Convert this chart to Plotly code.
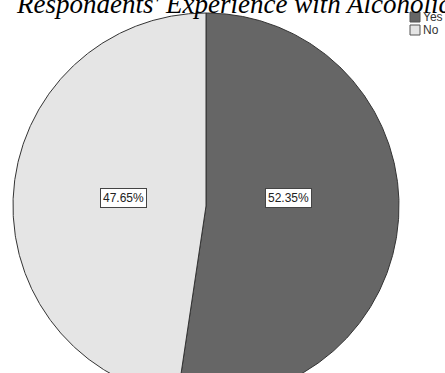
import numpy as np
import plotly.graph_objects as go

# Survey answers and their shares (%)
categories = ["Yes", "No"]
shares = [52.35, 47.65]
slice_colors = ["#666666", "#e5e5e5"]
label_texts = ["52.35%", "47.65%"]
title_text = "Respondents' Experience with Alcoholic Beverages"

W, H = 445, 373
cx_px, cy_px, r_px = 206, 206, 193  # pie centre / radius in pixels

fig = go.Figure()

# Draw each slice clockwise from 12 o'clock on a unit-radius pie
total = sum(shares)
start = 90.0
label_pos = []
for cat, val, col in zip(categories, shares, slice_colors):
    sweep = 360.0 * val / total
    ang = np.radians(np.linspace(start, start - sweep, 400))
    xs = np.concatenate([[0.0], np.cos(ang), [0.0]])
    ys = np.concatenate([[0.0], np.sin(ang), [0.0]])
    fig.add_trace(go.Scatter(
        x=xs, y=ys, mode="lines", fill="toself", fillcolor=col,
        line=dict(color="#333333", width=1), name=cat,
        hoverinfo="name", showlegend=False,
    ))
    mid = np.radians(start - sweep / 2)
    label_pos.append(0.43 * np.cos(mid))
    start -= sweep

# Percentage labels in small boxed tags
for lx, txt in zip(label_pos, label_texts):
    fig.add_annotation(
        x=lx, y=0.04, xref="x", yref="y", text=txt, showarrow=False,
        font=dict(family="Liberation Sans, Arial", size=12, color="#222222"),
        bgcolor="white", bordercolor="#444444", borderwidth=1, borderpad=2,
    )

# Title (italic serif, running off the right edge)
fig.add_annotation(
    x=14 / W, y=1 - 4 / H, xref="paper", yref="paper", xanchor="left",
    yanchor="middle", text=title_text, showarrow=False,
    font=dict(family="Liberation Serif, Times New Roman", size=27,
              color="#000000", style="italic"),
)

# Legend: colour swatch + category name
for i, (cat, col) in enumerate(zip(categories, slice_colors)):
    y0 = 12 + 13 * i
    fig.add_shape(type="rect", xref="paper", yref="paper",
                  x0=410 / W, x1=420 / W, y0=1 - (y0 + 10) / H, y1=1 - y0 / H,
                  fillcolor=col, line=dict(color="#555555", width=1))
    fig.add_annotation(
        x=421 / W, y=1 - (y0 + 5) / H, xref="paper", yref="paper",
        xanchor="left", yanchor="middle", text=cat, showarrow=False,
        font=dict(family="Liberation Sans, Arial", size=12, color="#333333"),
    )

fig.update_layout(
    width=W, height=H,
    margin=dict(l=0, r=0, t=0, b=0),
    paper_bgcolor="white", plot_bgcolor="white",
    xaxis=dict(range=[-cx_px / r_px, (W - cx_px) / r_px], visible=False,
               fixedrange=True),
    yaxis=dict(range=[-(H - cy_px) / r_px, cy_px / r_px], visible=False,
               fixedrange=True),
    showlegend=False,
)

fig.write_html("out.html")
